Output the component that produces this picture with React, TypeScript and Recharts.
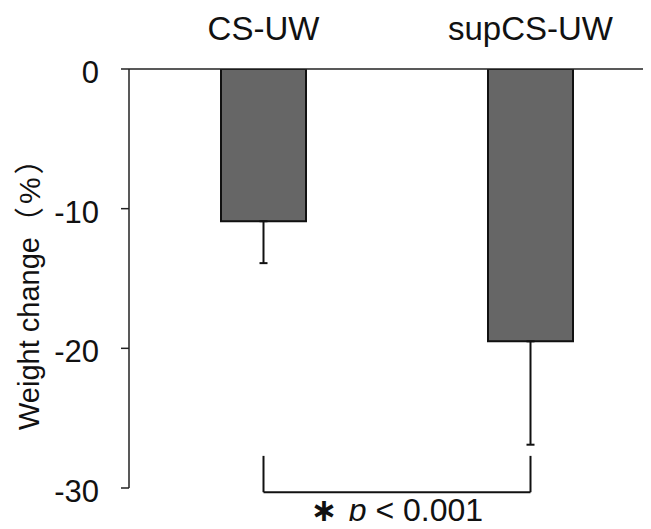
import React from 'react';
import { BarChart, Bar, XAxis, YAxis, ErrorBar, ReferenceLine } from 'recharts';

const categories = ['CS-UW', 'supCS-UW'];
const meanChange = [-10.9, -19.5];
const sdDown = [3.0, 7.4];
const yTicks = [0, -10, -20, -30];
const bracketTop = -27.7;
const bracketBottom = -30.3;
const yTitle = 'Weight change';
const yUnit = '（%）';
const pLabel = 'p';
const pRest = ' < 0.001';

const data = categories.map((name, i) => ({
  name,
  value: meanChange[i],
  err: [sdDown[i], 0],
}));

const FONT = '"Liberation Sans", Arial, "Noto Sans CJK JP", sans-serif';
const INK = '#111';

const YLabel = () => (
  <text
    x={29}
    y={430}
    transform="rotate(-90, 29, 430)"
    textAnchor="start"
    dominantBaseline="central"
    fontFamily={FONT}
    fontSize={29}
    fill={INK}
  >
    <tspan>{yTitle}</tspan>
    <tspan fontSize={30} letterSpacing={3}>{yUnit}</tspan>
  </text>
);

const PLabel = (props: any) => {
  const vb = props.viewBox || {};
  const cx = vb.x + (vb.width || 0) / 2;
  const y = vb.y + 29;
  return (
    <text x={cx} y={y} textAnchor="middle" fontFamily={FONT} fontSize={32} fill={INK}>
      <tspan fontFamily='"DejaVu Sans", sans-serif' fontWeight="bold">∗ </tspan>
      <tspan fontStyle="italic">{pLabel}</tspan>
      <tspan>{pRest}</tspan>
    </text>
  );
};

export default function App() {
  return (
    <div style={{ margin: -8, width: 651, height: 529, overflow: 'hidden', background: '#fff' }}>
      <BarChart
        width={664}
        height={529}
        data={data}
        margin={{ top: 39, right: 0, bottom: 41, left: 0 }}
        style={{ overflow: 'visible' }}
      >
        <XAxis
          dataKey="name"
          orientation="top"
          height={30}
          axisLine={{ stroke: '#222', strokeWidth: 1.5 }}
          tickLine={false}
          tickSize={0}
          tickMargin={29}
          padding={{ left: 1, right: 0 }}
          tick={{ fontFamily: FONT, fontSize: 33, fill: INK }}
          interval={0}
        />
        <YAxis
          type="number"
          domain={[-30, 0]}
          ticks={yTicks}
          width={129}
          axisLine={{ stroke: '#222', strokeWidth: 1.5 }}
          tickLine={{ stroke: '#222', strokeWidth: 1.5 }}
          tickSize={8}
          tickMargin={22}
          tick={{ fontFamily: FONT, fontSize: 31, fill: INK, dy: 3 }}
          label={<YLabel />}
          allowDataOverflow
        />
        <Bar
          dataKey="value"
          fill="#666666"
          stroke={INK}
          strokeWidth={2}
          barSize={85}
          isAnimationActive={false}
        >
          <ErrorBar dataKey="err" direction="y" width={4} stroke={INK} strokeWidth={2} />
        </Bar>
        <ReferenceLine
          segment={[{ x: categories[0], y: bracketTop }, { x: categories[0], y: bracketBottom }]}
          stroke={INK}
          strokeWidth={2}
          ifOverflow="visible"
        />
        <ReferenceLine
          segment={[{ x: categories[1], y: bracketTop }, { x: categories[1], y: bracketBottom }]}
          stroke={INK}
          strokeWidth={2}
          ifOverflow="visible"
        />
        <ReferenceLine
          segment={[{ x: categories[0], y: bracketBottom }, { x: categories[1], y: bracketBottom }]}
          stroke={INK}
          strokeWidth={2}
          ifOverflow="visible"
          label={<PLabel />}
        />
      </BarChart>
    </div>
  );
}
